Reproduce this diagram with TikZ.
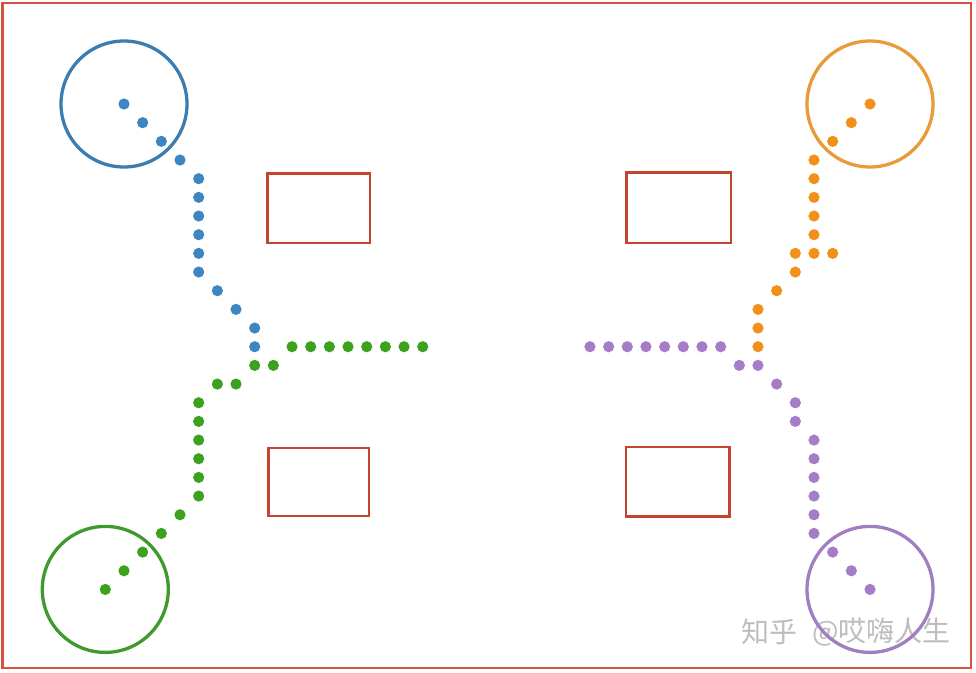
\documentclass[tikz,border=0pt]{standalone}
\usepackage{fontspec}
\newfontfamily\cjk{Noto Sans CJK SC}
\definecolor{cblue}{HTML}{3A7DAE}
\definecolor{dblue}{HTML}{3D86C1}
\definecolor{cgreen}{HTML}{3F9A2E}
\definecolor{dgreen}{HTML}{3CA21E}
\definecolor{corange}{HTML}{E89B38}
\definecolor{dorange}{HTML}{F2911A}
\definecolor{cpurple}{HTML}{A07EC0}
\definecolor{dpurple}{HTML}{A47CC8}
\definecolor{cred}{HTML}{C4452F}
\definecolor{bred}{HTML}{D4533F}
\definecolor{wgray}{HTML}{BDBDBD}
\tikzset{
  ring/.style={line width=3.3pt},
  zone/.style={draw=cred,line width=2.5pt},
  frame/.style={draw=bred,line width=2.8pt},
  dot/.style={},
  watermark/.style={font=\cjk\fontsize{28}{28}\selectfont,text=wgray,inner sep=0pt}
}
\begin{document}
\begin{tikzpicture}[x=1pt,y=-1pt]
\useasboundingbox (0,0) rectangle (976,672);
\def\s{18.67}
\def\r{5.6}
% frame
\draw[frame] (2.5,3) rectangle (971,668);
% rectangles
\draw[zone] (267.5,173.5) rectangle (370,243);
\draw[zone] (268.5,448) rectangle (369,516);
\draw[zone] (626.5,172.5) rectangle (731,243);
\draw[zone] (626,447) rectangle (729.5,516.5);
% watermark
\node[watermark,anchor=west] (wm1) at (741,632) {知乎};
\node[watermark,anchor=west] (wm2) at (812,632) {@哎嗨人生};
% circles
\draw[ring,cblue] (124,104) circle (63);
\draw[ring,cgreen] (105.3,589.4) circle (63);
\draw[ring,corange] (870,104) circle (63);
\draw[ring,cpurple] (870,589.4) circle (63);
% blue dots (left grid)
\foreach \i/\j in {0/0,1/1,2/2,3/3,4/4,4/5,4/6,4/7,4/8,4/9,5/10,6/11,7/12,7/13}
  \fill[dblue] ({124+\s*\i},{104+\s*\j}) circle (\r);
% green dots
\foreach \i/\j in {9/13,10/13,11/13,12/13,13/13,14/13,15/13,16/13,7/14,8/14,5/15,6/15,4/16,4/17,4/18,4/19,4/20,4/21,3/22,2/23,1/24,0/25,-1/26}
  \fill[dgreen] ({124+\s*\i},{104+\s*\j}) circle (\r);
% orange dots (right grid, leftwards)
\foreach \i/\j in {0/0,1/1,2/2,3/3,3/4,3/5,3/6,3/7,4/8,3/8,2/8,4/9,5/10,6/11,6/12,6/13}
  \fill[dorange] ({870-\s*\i},{104+\s*\j}) circle (\r);
% purple dots
\foreach \i/\j in {8/13,9/13,10/13,11/13,12/13,13/13,14/13,15/13,7/14,6/14,5/15,4/16,4/17,3/18,3/19,3/20,3/21,3/22,3/23,2/24,1/25,0/26}
  \fill[dpurple] ({870-\s*\i},{104+\s*\j}) circle (\r);
\end{tikzpicture}
\end{document}
